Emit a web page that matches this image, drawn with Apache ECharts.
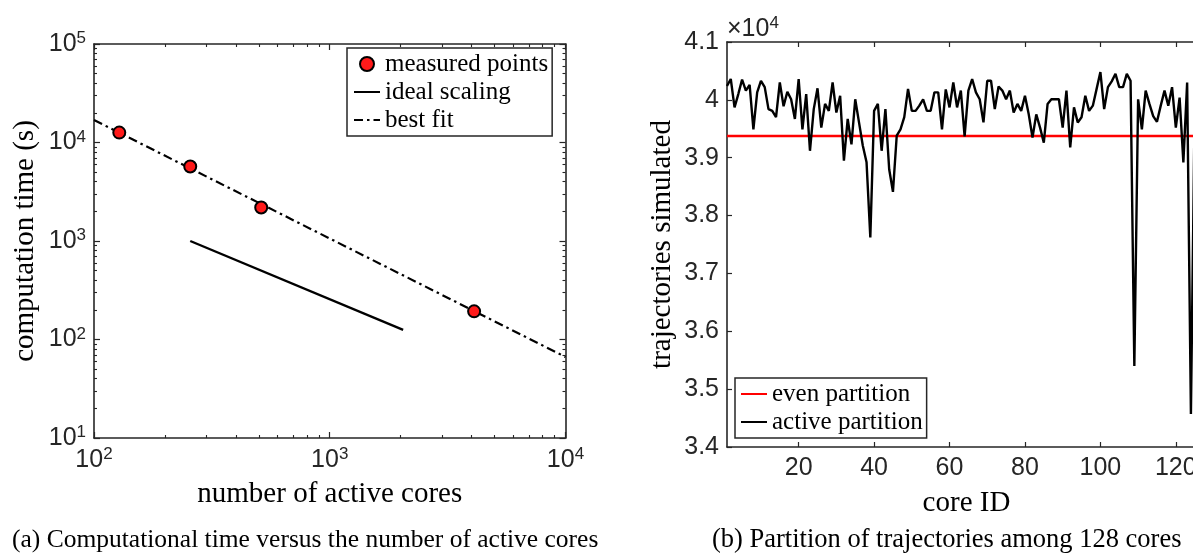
<!DOCTYPE html>
<html><head><meta charset="utf-8">
<script src="https://cdn.jsdelivr.net/npm/echarts@6.0.0/dist/echarts.min.js"></script>
<style>html,body{margin:0;padding:0;background:#fff}#c{width:1193px;height:554px}</style>
</head><body><div id="c"></div>
<script>
// ---------- data: panel (a) ----------
const measuredCores = [128, 256, 512, 4096];
const measuredTimes = [12600, 5700, 2190, 193];
const idealCores = [256, 2048];
const idealTimes = [1000, 125];
const fitCores = [100, 10000];
const fitTimes = [16900, 66.5];
const coreDecades = [100, 1000, 10000];
const timeDecades = [10, 100, 1000, 10000, 100000];
const coreMinor = [200,300,400,500,600,700,800,900,2000,3000,4000,5000,6000,7000,8000,9000];
const timeMinor = [20,30,40,50,60,70,80,90,200,300,400,500,600,700,800,900,2000,3000,4000,5000,6000,7000,8000,9000,20000,30000,40000,50000,60000,70000,80000,90000];

// ---------- data: panel (b) ----------
const coreIds = [1,2,3,4,5,6,7,8,9,10,11,12,13,14,15,16,17,18,19,20,21,22,23,24,25,26,27,28,29,30,31,32,33,34,35,36,37,38,39,40,41,42,43,44,45,46,47,48,49,50,51,52,53,54,55,56,57,58,59,60,61,62,63,64,65,66,67,68,69,70,71,72,73,74,75,76,77,78,79,80,81,82,83,84,85,86,87,88,89,90,91,92,93,94,95,96,97,98,99,100,101,102,103,104,105,106,107,108,109,110,111,112,113,114,115,116,117,118,119,120,121,122,123,124,125,126,127,128];
const activeTrajectories = [
 40240,40360,39870,40100,40350,40160,40260,39490,40130,40330,
 40220,39840,39810,39700,40300,39890,40140,40010,39670,40360,
 39490,40100,39120,39840,40200,39520,39930,39810,40300,39780,
 40070,38950,39670,39230,40010,39610,39210,38920,37620,39810,
 39930,39120,39840,38800,38410,39380,39490,39700,40190,39810,
 39810,39900,40010,39810,39810,40130,40130,39490,40180,39870,
 40300,39870,40160,39370,40160,40360,40130,40010,39610,40330,
 40330,39840,40230,40160,40010,40160,39780,39930,39810,40070,
 39750,39350,39750,39520,39260,39930,40010,40010,40010,39520,
 40160,39180,39870,39610,39700,40070,39810,39900,40190,40480,
 39840,40220,40320,40450,40220,40220,40450,40330,35400,40010,
 39490,40160,39930,39720,39620,39900,40160,39900,40220,39520,
 40040,38920,40300,34570,39900,40100,39800,40000];
const evenTrajectories = 39375;
const coreIdTicks = [20, 40, 60, 80, 100, 120];

// ---------- style ----------
const SERIF = "'Liberation Serif','DejaVu Serif',serif";
const SANS = "'Liberation Sans',Arial,Helvetica,sans-serif";
const AX = '#262626';
const axisLine = {show:true, onZero:false, lineStyle:{color:AX, width:1.6}};
const richPow = {
  n:{fontFamily:SANS, fontSize:25, color:AX, lineHeight:28},
  s:{fontFamily:SANS, fontSize:17, color:AX, lineHeight:15, verticalAlign:'top'}
};
const pow10 = v => '{n|10}{s|' + Math.round(Math.log10(v)) + '}';

function logAxis(grid, min, max, pos, major, minor, withLabel, extra) {
  const list = [];
  list.push(Object.assign({
    type:'log', logBase:10, gridIndex:grid, min:min, max:max, position:pos,
    axisLine: axisLine,
    axisTick:{show:true, inside:true, length:6, customValues:major, lineStyle:{color:AX, width:1.2}},
    axisLabel: withLabel ? {show:true, customValues:major, formatter:pow10, rich:richPow, margin:8} : {show:false},
    splitLine:{show:false}, minorTick:{show:false}, minorSplitLine:{show:false}
  }, extra || {}));
  list.push({
    type:'log', logBase:10, gridIndex:grid, min:min, max:max, position:pos,
    axisLine:{show:false, onZero:false},
    axisTick:{show:true, inside:true, length:3, customValues:minor, lineStyle:{color:AX, width:1.1}},
    axisLabel:{show:false}, splitLine:{show:false}
  });
  return list;
}

const xAxes = [].concat(
  logAxis(0, 100, 10000, 'bottom', coreDecades, coreMinor, true, {
    name:'number of active cores', nameLocation:'middle', nameGap:42,
    nameTextStyle:{fontFamily:SERIF, fontSize:29, color:'#000'}
  }),
  logAxis(0, 100, 10000, 'top', coreDecades, coreMinor, false),
  [{
    type:'value', gridIndex:1, min:1, max:128, position:'bottom',
    axisLine: axisLine,
    axisTick:{show:true, inside:true, length:5, customValues:coreIdTicks, lineStyle:{color:AX, width:1.2}},
    axisLabel:{show:true, customValues:coreIdTicks, fontFamily:SANS, fontSize:25, color:AX, margin:9},
    splitLine:{show:false},
    name:'core ID', nameLocation:'middle', nameGap:42,
    nameTextStyle:{fontFamily:SERIF, fontSize:29, color:'#000'}
  },{
    type:'value', gridIndex:1, min:1, max:128, position:'top',
    axisLine: axisLine,
    axisTick:{show:true, inside:true, length:5, customValues:coreIdTicks, lineStyle:{color:AX, width:1.2}},
    axisLabel:{show:false}, splitLine:{show:false}
  }]
);

const yAxes = [].concat(
  logAxis(0, 10, 100000, 'left', timeDecades, timeMinor, true, {
    name:'computation time (s)', nameLocation:'middle', nameGap:54,
    nameTextStyle:{fontFamily:SERIF, fontSize:29, color:'#000'}
  }),
  logAxis(0, 10, 100000, 'right', timeDecades, timeMinor, false),
  [{
    type:'value', gridIndex:1, min:34000, max:41000, interval:1000, position:'left',
    axisLine: axisLine,
    axisTick:{show:true, inside:true, length:5, lineStyle:{color:AX, width:1.2}},
    axisLabel:{show:true, fontFamily:SANS, fontSize:25, color:AX, margin:8,
      formatter: v => String(+(v/10000).toFixed(2))},
    splitLine:{show:false},
    name:'trajectories simulated', nameLocation:'middle', nameGap:50,
    nameTextStyle:{fontFamily:SERIF, fontSize:29, color:'#000'}
  }]
);

const hideSym = {opacity:0, borderWidth:0};
const option = {
  backgroundColor:'#fff',
  animation:false,
  title:[
    {text:'(a) Computational time versus the number of active cores', left:12, top:527, padding:0,
     textStyle:{fontFamily:SERIF, fontSize:25.5, fontWeight:'normal', color:'#000'}},
    {text:'(b) Partition of trajectories among 128 cores', left:712, top:527, padding:0,
     textStyle:{fontFamily:SERIF, fontSize:26.5, fontWeight:'normal', color:'#000'}},
    {text:'{a|×10}{s|4}', left:727, top:15, padding:0,
     textStyle:{fontWeight:'normal', rich:{
       a:{fontFamily:SANS, fontSize:25, fontWeight:'normal', color:AX, lineHeight:28},
       s:{fontFamily:SANS, fontSize:17, fontWeight:'normal', color:AX, lineHeight:15, verticalAlign:'top'}}}}
  ],
  grid:[
    {left:94, top:44, width:471.5, height:394, outerBoundsMode:'none', containLabel:false},
    {left:727, top:42, width:479, height:405, outerBoundsMode:'none', containLabel:false}
  ],
  xAxis: xAxes,
  yAxis: yAxes,
  legend:[
    {data:['measured points', {name:'ideal scaling', itemStyle:hideSym}, {name:'best fit', itemStyle:hideSym}],
     orient:'vertical', left:347, top:48,
     padding:[3,4,3,6], itemGap:2, itemWidth:26, itemHeight:14,
     backgroundColor:'#fff', borderColor:AX, borderWidth:1.5, borderRadius:0,
     textStyle:{fontFamily:SERIF, fontSize:25, color:'#000', lineHeight:26}, selectedMode:false},
    {data:[{name:'even partition', itemStyle:hideSym}, {name:'active partition', itemStyle:hideSym}],
     orient:'vertical', left:735, top:378,
     padding:[3,4,3,5], itemGap:2, itemWidth:26, itemHeight:14,
     backgroundColor:'#fff', borderColor:AX, borderWidth:1.5, borderRadius:0,
     textStyle:{fontFamily:SERIF, fontSize:25, color:'#000', lineHeight:26}, selectedMode:false}
  ],
  series:[
    {name:'best fit', type:'line', xAxisIndex:0, yAxisIndex:0, symbol:'none',
     data: fitCores.map((c,i)=>[c, fitTimes[i]]),
     lineStyle:{color:'#000', width:2.2, type:[9,4,2.5,4]}, itemStyle:{color:'#000'}, z:3},
    {name:'ideal scaling', type:'line', xAxisIndex:0, yAxisIndex:0, symbol:'none',
     data: idealCores.map((c,i)=>[c, idealTimes[i]]),
     lineStyle:{color:'#000', width:2.4}, itemStyle:{color:'#000'}, z:3},
    {name:'measured points', type:'scatter', xAxisIndex:0, yAxisIndex:0, symbol:'circle', symbolSize:12,
     data: measuredCores.map((c,i)=>[c, measuredTimes[i]]),
     itemStyle:{color:'#ff1a1a', borderColor:'#000', borderWidth:2, opacity:1}, z:5},
    {name:'even partition', type:'line', xAxisIndex:4, yAxisIndex:4, symbol:'none',
     data: [[coreIds[0], evenTrajectories],[coreIds[coreIds.length-1], evenTrajectories]],
     lineStyle:{color:'#ff0000', width:2.6}, itemStyle:{color:'#ff0000'}, z:3},
    {name:'active partition', type:'line', xAxisIndex:4, yAxisIndex:4, symbol:'none',
     data: coreIds.map((c,i)=>[c, activeTrajectories[i]]),
     lineStyle:{color:'#000', width:2.4}, itemStyle:{color:'#000'}, z:4}
  ]
};
const chart = echarts.init(document.getElementById('c'), null, {renderer:'canvas'});
chart.setOption(option);
</script></body></html>
